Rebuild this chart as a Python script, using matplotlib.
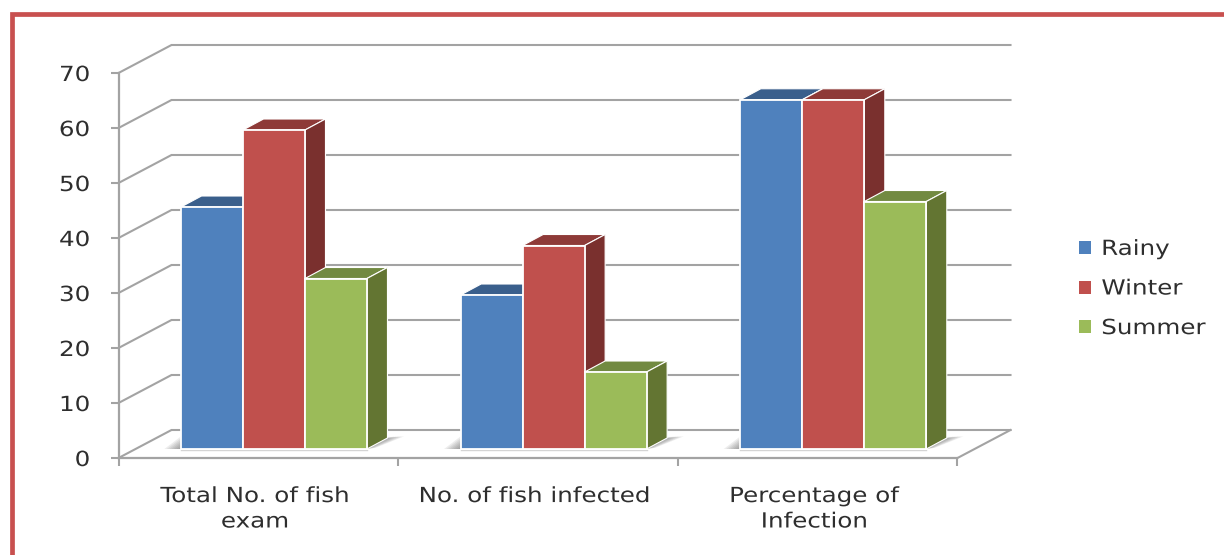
import matplotlib
matplotlib.use('Agg')
import matplotlib.pyplot as plt
from matplotlib.patches import Patch, Polygon, Rectangle
from matplotlib.patheffects import AbstractPathEffect
from matplotlib.transforms import Affine2D

categories = ['Total No. of fish\nexam', 'No. of fish infected', 'Percentage of\nInfection']
series_names = ['Rainy', 'Winter', 'Summer']
rainy = [44, 28, 63.5]
winter = [58, 37, 63.5]
summer = [31, 14, 45]
y_ticks = [0, 10, 20, 30, 40, 50, 60, 70]

front_colors = ['#4F81BD', '#C0504D', '#9BBB59']
top_colors = ['#3A5F8C', '#8E3A38', '#728A41']
side_colors = ['#2F4E74', '#7A302E', '#637532']
grid_color = '#A3A3A3'
text_color = '#2E2E2E'


class WideText(AbstractPathEffect):
    # stretches a text line sideways about its left, centre or right edge
    def __init__(self, factor=1.18, anchor='center'):
        super().__init__()
        self.factor = factor
        self.anchor = anchor

    def draw_path(self, renderer, gc, tpath, affine, rgbFace=None):
        box = affine.transform_path(tpath).get_extents()
        cx = {'left': box.x0, 'center': (box.x0 + box.x1) / 2, 'right': box.x1}[self.anchor]
        wide = affine + Affine2D().translate(-cx, 0).scale(self.factor, 1).translate(cx, 0)
        renderer.draw_path(gc, tpath, wide, rgbFace)


W, H = 1224, 555
fig = plt.figure(figsize=(W / 100, H / 100), dpi=100, facecolor='white')

# outer red frame runs off the right and bottom edges
fig.add_artist(Rectangle((11.5 / W, -0.1), 1.1, 1 + 0.1 - 14 / H, transform=fig.transFigure,
                         fill=False, edgecolor='#C8504F', linewidth=3.4))

# front plane of the plot box, in pixels
left, right, top, bottom = 118.5, 957.5, 73, 458
ax = fig.add_axes([left / W, 1 - bottom / H, (right - left) / W, (bottom - top) / H])
ax.set_xlim(0, 3)
ax.set_ylim(0, 70)
ax.patch.set_alpha(0)

# oblique offsets, in data units
wall_dx, wall_dy = 53 / 279.7, 28 / 5.5
bar_dx, bar_dy = 20.5 / 279.7, 11 / 5.5
lift = 9 / 5.5
bar_w = 62 / 279.7
bar_start = 62.5 / 279.7

for s in ['top', 'right']:
    ax.spines[s].set_visible(False)
for s in ['left', 'bottom']:
    ax.spines[s].set_color(grid_color)
    ax.spines[s].set_linewidth(1.6)

ax.set_yticks(y_ticks)
ax.set_xticks([0, 1, 2, 3])
ax.set_xticklabels([])
ax.set_xticks([i + 0.488 for i in range(3)], categories, minor=True)
ax.tick_params(axis='x', which='major', length=5.5, width=1.5, color=grid_color)
ax.tick_params(axis='x', which='minor', length=0, pad=20.2, labelsize=15, labelcolor=text_color)
ax.tick_params(axis='y', length=5.5, width=1.5, color=grid_color, pad=15,
               labelsize=15, labelcolor=text_color)
for lab in ax.get_xticklabels(minor=True):
    lab.set_linespacing(1.34)
    lab.set_path_effects([WideText()])
for lab in ax.get_yticklabels():
    lab.set_path_effects([WideText(anchor='right')])

# side-wall and back-wall gridlines
for v in y_ticks:
    ax.plot([0, wall_dx, 3 + wall_dx], [v, v + wall_dy, v + wall_dy], color=grid_color,
            lw=1.5, clip_on=False, zorder=1, solid_joinstyle='miter')
ax.plot([3, 3 + wall_dx], [0, wall_dy], color=grid_color, lw=1.5, clip_on=False, zorder=1)

# soft floor shadows either side of each cluster, built up from stacked wedges
for i in range(3):
    x0 = i + bar_start
    x1 = x0 + 3 * bar_w
    ax.plot([x0, x1], [lift - 0.15, lift - 0.15], color='#D4D4D4', lw=1, clip_on=False, zorder=2)
    for k in range(1, 8):
        spread = k * 0.0085
        ax.add_patch(Polygon([(x0, lift), (x0, lift + 0.33 * k), (x0 - spread, lift)], closed=True,
                             facecolor='#555555', edgecolor='none', alpha=0.1,
                             clip_on=False, zorder=2))
        ax.add_patch(Polygon([(x1, lift), (x1 + bar_dx, lift + bar_dy), (x1 + bar_dx + spread, lift + 2.3),
                              (x1 + spread * 0.5, lift + 0.2)], closed=True,
                             facecolor='#555555', edgecolor='none', alpha=0.11,
                             clip_on=False, zorder=2))

# each bar is a front face from ax.bar plus oblique top and side faces
for s, values in enumerate([rainy, winter, summer]):
    for i, v in enumerate(values):
        x0 = i + bar_start + s * bar_w
        x1 = x0 + bar_w
        y1 = lift + v
        z = 3 + s * 0.1
        ax.add_patch(Polygon([(x0, y1), (x0 + bar_dx, y1 + bar_dy), (x1 + bar_dx, y1 + bar_dy), (x1, y1)],
                             closed=True, facecolor=top_colors[s], edgecolor='white', linewidth=0.8,
                             clip_on=False, zorder=z))
        ax.add_patch(Polygon([(x1, lift), (x1 + bar_dx, lift + bar_dy), (x1 + bar_dx, y1 + bar_dy), (x1, y1)],
                             closed=True, facecolor=side_colors[s], edgecolor='white', linewidth=0.8,
                             clip_on=False, zorder=z))
        ax.bar(x0, v, width=bar_w, bottom=lift, align='edge', color=front_colors[s],
               edgecolor='white', linewidth=1.3, zorder=z + 0.01, clip_on=False)

handles = [Patch(facecolor=c, edgecolor='none') for c in front_colors]
leg = fig.legend(handles, series_names, loc='center left', bbox_to_anchor=(1079 / W, 1 - 288.5 / H),
                 frameon=False, fontsize=15, labelcolor=text_color, handlelength=0.58, handleheight=0.58,
                 handletextpad=0.5, labelspacing=0.94, borderpad=0, borderaxespad=0)
for t in leg.get_texts():
    t.set_path_effects([WideText(anchor='left')])

fig.savefig('out.png', dpi=100)
